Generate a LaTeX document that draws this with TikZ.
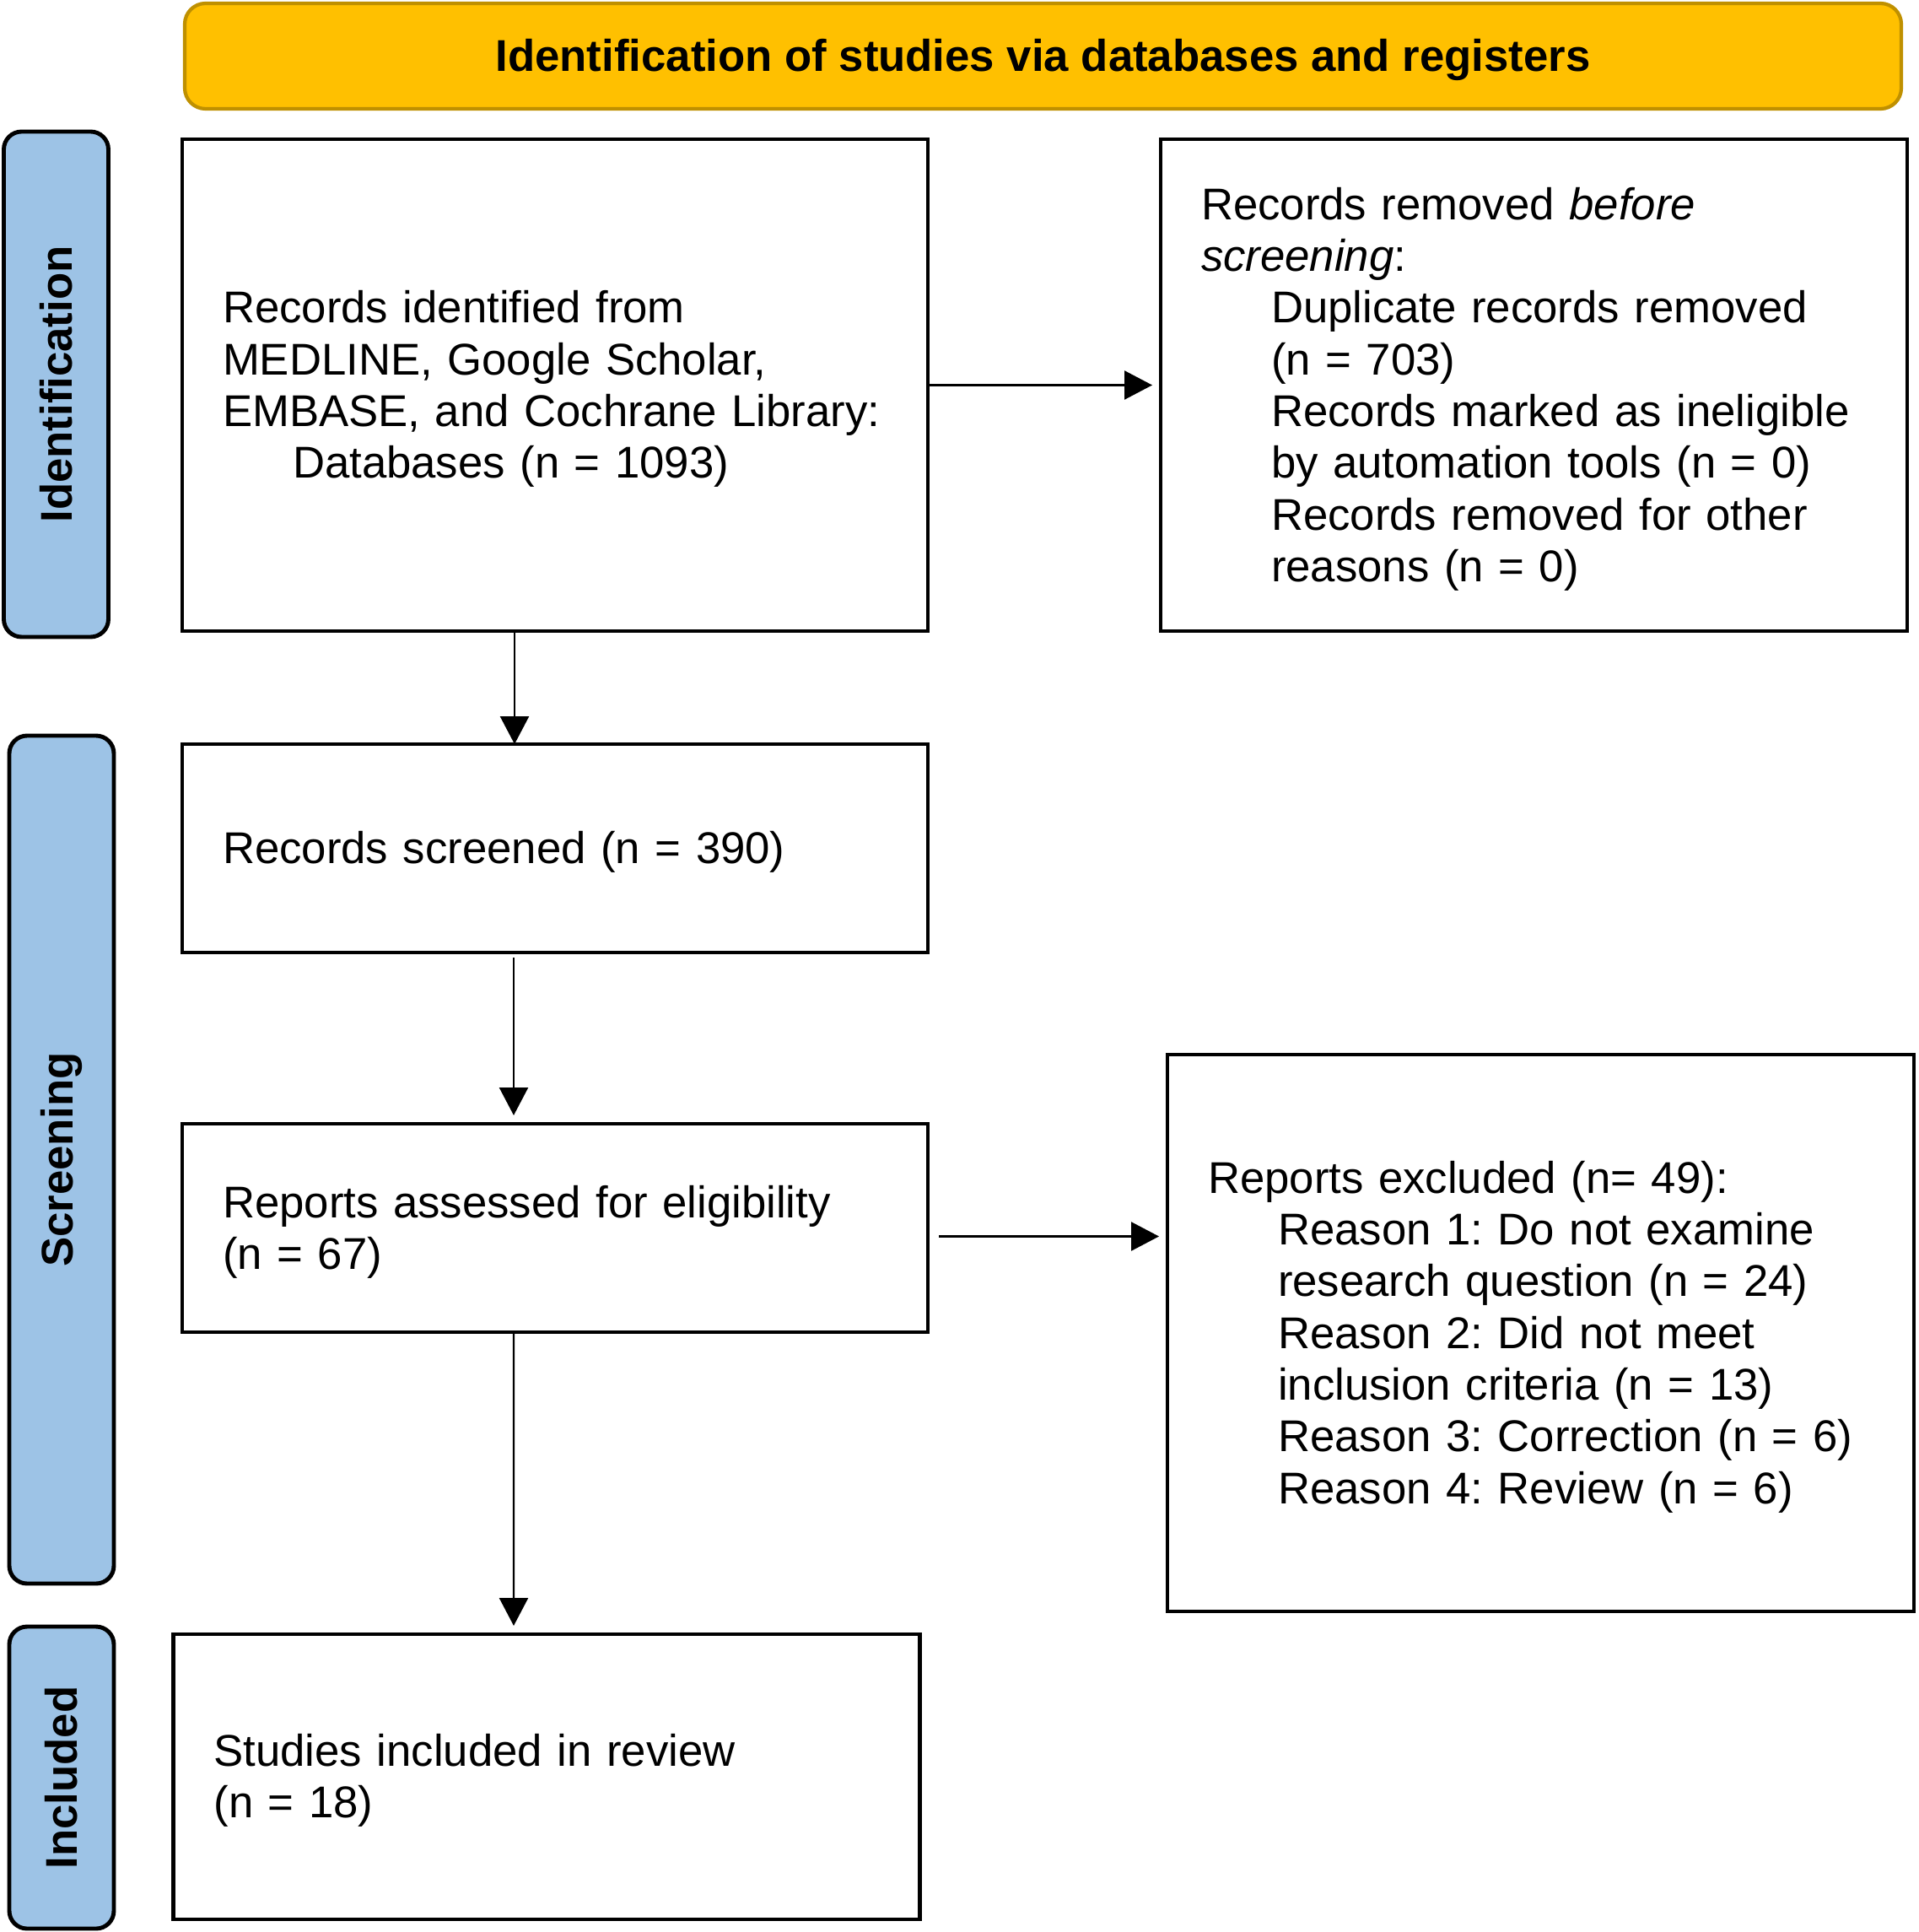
\documentclass[tikz,border=0pt]{standalone}
\usepackage{fontspec}
\setmainfont{Liberation Sans}
\definecolor{PrismaGold}    {HTML}{FFC000}
\definecolor{PrismaGoldDark}{HTML}{BF9000}
\definecolor{PrismaBlue}    {HTML}{9DC3E6}
\usetikzlibrary{arrows.meta,positioning}
\newcommand{\pind}{\hspace*{0.83cm}}
\frenchspacing

\begin{document}
\begin{tikzpicture}[node distance=1.34cm,
  box/.style={draw=black,line width=1.2pt,outer sep=0pt,
              inner xsep=0.48cm,inner ysep=0pt,align=left,
              execute at begin node={\rule{0pt}{13.5pt}},
              font=\fontsize{15pt}{17.45pt}\selectfont},
  phase/.style={draw=black,line width=1.4pt,fill=PrismaBlue,
              rounded corners=6pt,rotate=90,inner sep=0pt,
              minimum height=1.24cm,
              font=\fontsize{15pt}{18pt}\selectfont\bfseries},
  flow/.style={-{Triangle[length=0.33cm,width=0.34cm]},line width=0.7pt}]
  \useasboundingbox (0,0) rectangle (22.74,-22.90);
  % banner
  \node[draw=PrismaGoldDark,line width=1.2pt,fill=PrismaGold,
        rounded corners=7pt,minimum width=20.35cm,minimum height=1.25cm,
        text height=13.5pt,
        font=\fontsize{15pt}{18pt}\selectfont\bfseries]
        (T) at (12.365,-0.665) {Identification of studies via databases and registers};
  % phases
  \node[phase,minimum width=5.99cm] (PI) at (0.665,-4.555) {Identification};
  \node[phase,minimum width=10.05cm] (PS) at (0.73,-13.745) {Screening};
  \node[phase,minimum width=3.58cm] (PN) at (0.73,-21.07) {Included};
  % boxes
  \node[box,text width=7.88cm,minimum height=5.83cm] (A) at (6.58,-4.565)
        {Records identified from\\MEDLINE, Google Scholar,\\EMBASE, and Cochrane Library:\\\pind Databases (n = 1093)};
  \node[box,text width=7.89cm,minimum height=5.83cm,right=2.76cm of A] (B)
        {Records removed \textit{before}\\\textit{screening}:\\
         \pind Duplicate records removed\\\pind (n = 703)\\
         \pind Records marked as ineligible\\\pind by automation tools (n = 0)\\
         \pind Records removed for other\\\pind reasons (n = 0)};
  \node[box,text width=7.88cm,minimum height=2.47cm,below=of A] (C)
        {Records screened (n = 390)};
  \node[box,text width=7.88cm,minimum height=2.47cm,below=2.03cm of C] (D)
        {Reports assessed for eligibility\\(n = 67)};
  \node[box,text width=7.89cm,minimum height=6.60cm,right=2.84cm of D,yshift=-12.45mm] (E)
        {Reports excluded (n= 49):\\
         \pind Reason 1: Do not examine\\\pind research question (n = 24)\\
         \pind Reason 2: Did not meet\\\pind inclusion criteria (n = 13)\\
         \pind Reason 3: Correction (n = 6)\\
         \pind Reason 4: Review (n = 6)};
  \node[box,text width=7.89cm,minimum height=3.38cm,below=3.58cm of D,xshift=-1mm] (F)
        {Studies included in review\\(n = 18)};
  % arrows
  \draw[flow,shorten >=1mm] (A.east) -- (A.east -| B.west);
  \draw[flow] ([xshift=-4.8mm]A.south) -- ([xshift=-4.8mm]C.north);
  \draw[flow,shorten <=0.6mm,shorten >=1mm] ([xshift=-4.9mm]C.south) -- ([xshift=-4.9mm]D.north);
  \draw[flow,shorten <=1.3mm,shorten >=1mm] ([yshift=-1mm]D.east) -- ([yshift=-1mm]D.east -| E.west);
  \draw[flow,shorten >=1mm] ([xshift=-4.9mm]D.south) -- ([xshift=-3.9mm]F.north);
\end{tikzpicture}
\end{document}
